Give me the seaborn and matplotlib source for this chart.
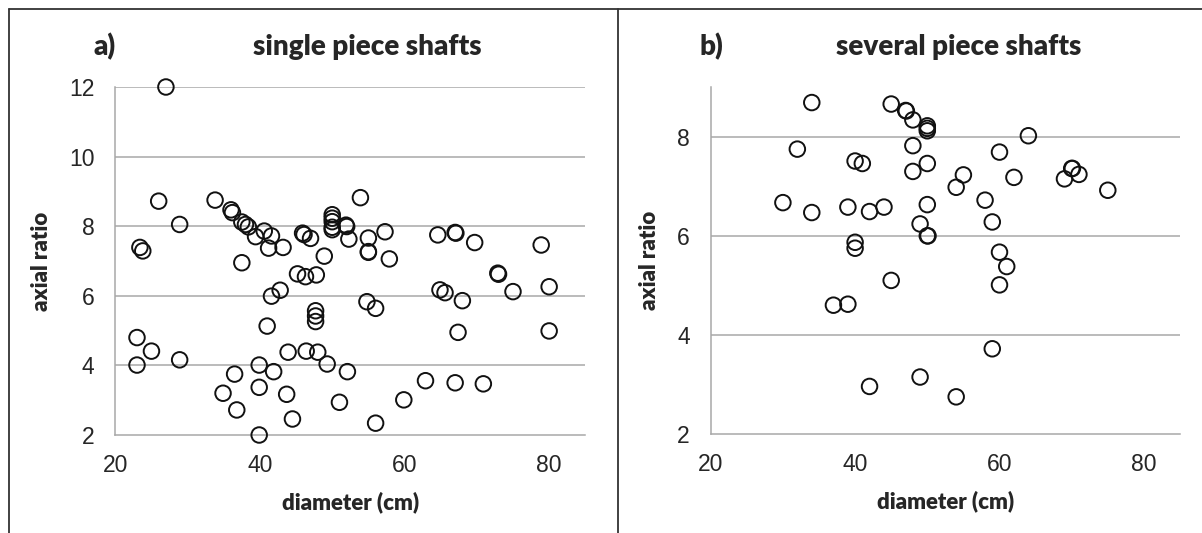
import matplotlib
matplotlib.use("Agg")
import matplotlib.pyplot as plt
import numpy as np
import seaborn as sns
from matplotlib.lines import Line2D

# single piece shafts (panel a)
left_diam = [27.0, 26.0, 33.8, 36.0, 36.2, 28.9, 23.4, 23.8, 37.5, 38.0,
             38.4, 39.4, 40.6, 41.6, 41.2, 43.2, 37.5, 45.9, 46.1, 47.0,
             48.9, 45.2, 46.3, 47.8, 41.6, 42.8, 47.7, 47.7, 47.7, 41.0,
             50.0, 50.0, 50.0, 50.0, 50.0, 51.9, 52.0, 52.3, 53.9, 55.0,
             55.0, 55.0, 57.3, 57.9, 64.6, 67.0, 67.1, 69.7, 78.9, 72.9,
             73.0, 64.9, 65.6, 68.0, 75.0, 80.0, 54.8, 56.0, 67.4, 80.0,
             49.3, 52.1, 62.9, 67.0, 70.9, 59.9, 51.0, 56.0, 23.0, 25.0,
             23.0, 28.9, 43.9, 46.4, 48.0, 39.9, 41.9, 36.5, 34.9, 39.9,
             43.7, 36.8, 44.5, 39.9]
left_ratio = [12.0, 8.72, 8.75, 8.47, 8.39, 8.05, 7.39, 7.29, 8.12, 8.05,
              7.98, 7.70, 7.86, 7.72, 7.37, 7.39, 6.95, 7.80, 7.76, 7.65,
              7.14, 6.63, 6.55, 6.60, 5.99, 6.16, 5.57, 5.42, 5.26, 5.13,
              8.33, 8.23, 8.13, 7.97, 7.90, 8.03, 7.99, 7.63, 8.82, 7.66,
              7.27, 7.25, 7.84, 7.06, 7.75, 7.82, 7.80, 7.53, 7.46, 6.65,
              6.62, 6.17, 6.09, 5.86, 6.12, 6.26, 5.83, 5.64, 4.95, 4.99,
              4.04, 3.82, 3.56, 3.50, 3.47, 3.01, 2.94, 2.34, 4.80, 4.41,
              4.01, 4.16, 4.38, 4.41, 4.38, 4.01, 3.82, 3.75, 3.20, 3.37,
              3.17, 2.72, 2.46, 2.00]

# several piece shafts (panel b)
right_diam = [34, 45, 47, 47.1, 48, 50, 50, 50, 64, 32,
              40, 41, 48, 50, 48, 60, 55, 54, 62, 70,
              70.1, 69, 71, 75, 58, 30, 34, 39, 42, 44,
              50, 49, 59, 50, 50.1, 40, 40, 60, 61, 60,
              45, 37, 39, 59, 42, 49, 54]
right_ratio = [8.69, 8.66, 8.53, 8.52, 8.34, 8.22, 8.17, 8.12, 8.02, 7.75,
               7.51, 7.46, 7.82, 7.46, 7.30, 7.69, 7.23, 6.98, 7.18, 7.36,
               7.36, 7.15, 7.24, 6.92, 6.72, 6.67, 6.47, 6.58, 6.49, 6.58,
               6.63, 6.24, 6.28, 6.00, 6.00, 5.87, 5.75, 5.67, 5.38, 5.01,
               5.10, 4.60, 4.62, 3.72, 2.96, 3.15, 2.75]

x_ticks = [20, 40, 60, 80]
left_yticks = [2, 4, 6, 8, 10, 12]
right_yticks = [2, 4, 6, 8]

sns.set_style("white")
plt.rcParams['font.family'] = ['Liberation Sans', 'DejaVu Sans']

W, H = 1202, 533
fig = plt.figure(figsize=(W / 100, H / 100), dpi=100)

grid_col = '#a8a8a8'
label_font = dict(family=['Lato', 'DejaVu Sans'], fontweight='heavy')


def make_panel(rect, xs, ys, ylim, yticks, letter, title, letter_x, title_x):
    ax = fig.add_axes(rect)
    sns.scatterplot(x=xs, y=ys, ax=ax, s=125, facecolor='none',
                    edgecolor='#111111', linewidth=1.4, clip_on=False,
                    legend=False, zorder=3)
    ax.set_xlim(20, 85)
    ax.set_ylim(*ylim)
    ax.set_xticks(x_ticks)
    ax.set_yticks(yticks)
    for yv in yticks[1:]:
        ax.axhline(yv, color=grid_col, lw=1.1, zorder=1)
    for side in ['top', 'right']:
        ax.spines[side].set_visible(False)
    for side in ['left', 'bottom']:
        ax.spines[side].set_color(grid_col)
        ax.spines[side].set_linewidth(1.1)
    ax.tick_params(axis='both', direction='out', length=6, width=1.1,
                   color=grid_col, labelsize=16.5, pad=8)
    ax.tick_params(axis='y', pad=9)
    ax.set_xlabel('diameter (cm)', fontsize=16, labelpad=10, **label_font)
    ax.set_ylabel('axial ratio', fontsize=16, labelpad=12, **label_font)
    fig.text(letter_x / W, 1 - 47 / H, letter, ha='center', va='center',
             fontsize=20, **label_font)
    fig.text(title_x / W, 1 - 47 / H, title, ha='center', va='center',
             fontsize=20, **label_font)
    return ax


make_panel([115.3 / W, 1 - 435 / H, 470 / W, 348 / H], left_diam, left_ratio,
           (2, 12), left_yticks, 'a)', 'single piece shafts', 105, 367)
make_panel([710.7 / W, 1 - 434 / H, 469.3 / W, 346.8 / H], right_diam, right_ratio,
           (2, 9), right_yticks, 'b)', 'several piece shafts', 711, 958.5)

# outer frame lines
frame_col = '#333333'
fig.add_artist(Line2D([9 / W, 1], [1 - 9 / H, 1 - 9 / H], color=frame_col, lw=1.3))
fig.add_artist(Line2D([9 / W, 9 / W], [0, 1 - 9 / H], color=frame_col, lw=1.3))
fig.add_artist(Line2D([618 / W, 618 / W], [0, 1 - 9 / H], color=frame_col, lw=1.3))

fig.savefig('out.png', dpi=100)
